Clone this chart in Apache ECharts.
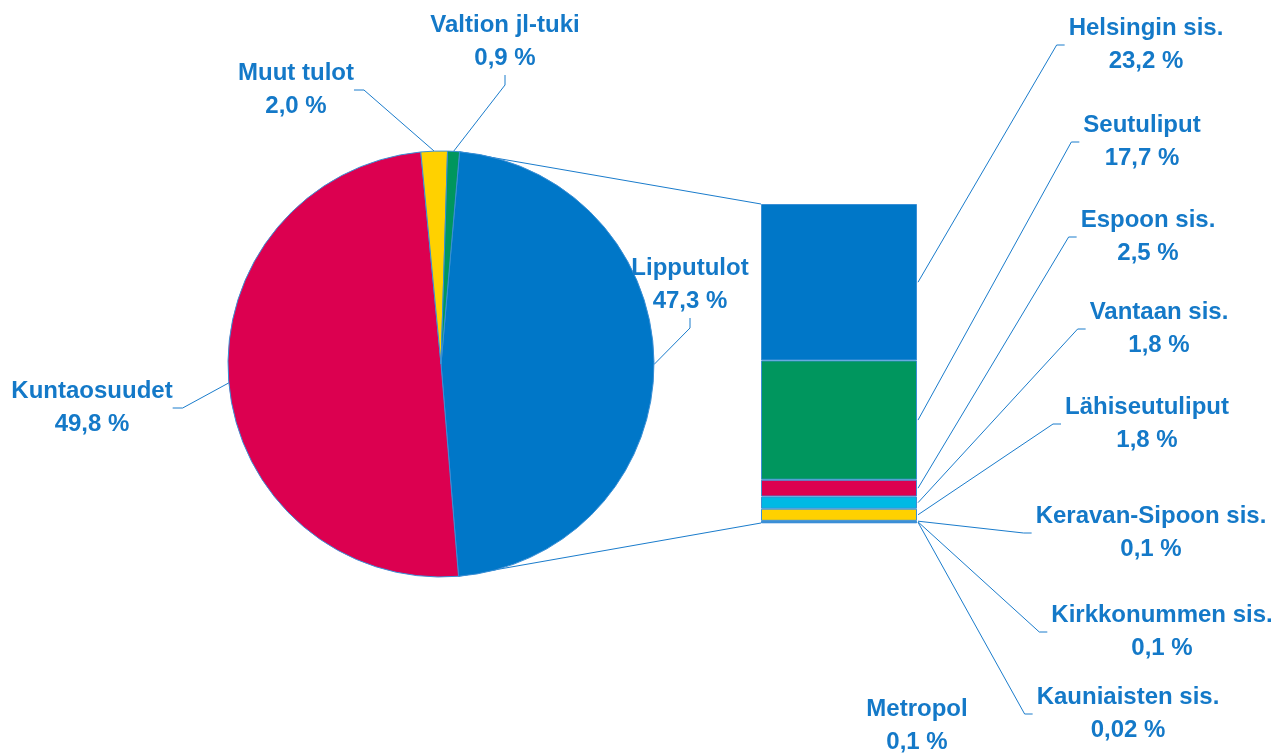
<!DOCTYPE html>
<html>
<head>
<meta charset="utf-8">
<script src="https://cdn.jsdelivr.net/npm/echarts@6/dist/echarts.min.js"></script>
<style>
  html, body { margin: 0; padding: 0; background: #fff; }
  #main { width: 1277px; height: 754px; }
</style>
</head>
<body>
<div id="main"></div>
<script>
// pie: tulot
const pieNames = ['Lipputulot', 'Kuntaosuudet', 'Muut tulot', 'Valtion jl-tuki'];
const pieValues = [47.3, 49.8, 2.0, 0.9];
const pieColors = ['#0077c8', '#dc0050', '#ffd100', '#00965e'];

// bar: lipputulojen jako (alhaalta ylös)
const barNames = ['Metropol', 'Kauniaisten sis.', 'Kirkkonummen sis.', 'Keravan-Sipoon sis.',
  'Lähiseutuliput', 'Vantaan sis.', 'Espoon sis.', 'Seutuliput', 'Helsingin sis.'];
const barValues = [0.1, 0.02, 0.1, 0.1, 1.8, 1.8, 2.5, 17.7, 23.2];
const barColors = ['#0077c8', '#0077c8', '#0077c8', '#0077c8',
  '#ffd100', '#00b9e4', '#dc0050', '#00965e', '#0077c8'];

// label places (layout only)
const pieLabelPos = [[690, 285], [92, 408], [296, 90], [505, 42]];
const barLabelPos = [[917, 726], [1128, 714], [1162, 632], [1151, 533],
  [1147, 424], [1159, 329], [1148, 237], [1142, 142], [1146, 45]];

const blue = '#1479c8';
const lineClr = '#1a7ccc';
const edge = '#3a8fd6';
const pieC = [441, 364], pieR = 213, pieStart = 85;
const gridBox = { left: 761, top: 204, width: 156, height: 319 };
const fontCss = 'bold 24px "Liberation Sans", Arial, sans-serif';

const fmt = v => v.toFixed(v < 0.1 ? 2 : 1).replace('.', ',') + ' %';
const txt = {
  fontFamily: '"Liberation Sans", Arial, sans-serif',
  fontWeight: 'bold',
  fontSize: 24,
  lineHeight: 33,
  color: blue,
  align: 'center'
};

const total = barValues.reduce((a, b) => a + b, 0);
const pieSum = pieValues.reduce((a, b) => a + b, 0);

const chart = echarts.init(document.getElementById('main'));

let series = [{
  type: 'pie',
  center: pieC,
  radius: pieR,
  startAngle: pieStart,
  clockwise: true,
  avoidLabelOverlap: false,
  animation: false,
  data: pieNames.map((n, i) => ({ name: n, value: pieValues[i], itemStyle: { color: pieColors[i] } })),
  itemStyle: { borderColor: edge, borderWidth: 1 },
  label: Object.assign({ show: true, position: 'outside', formatter: p => p.name + '\n' + fmt(p.value) }, txt),
  labelLine: { show: true, length: 20, length2: 10, lineStyle: { color: lineClr, width: 1 } },
  labelLayout: p => ({
    x: pieLabelPos[p.dataIndex][0],
    y: pieLabelPos[p.dataIndex][1],
    align: 'center',
    verticalAlign: 'middle'
  })
}];

barNames.forEach((n, i) => {
  series.push({
    type: 'bar',
    name: n,
    stack: 'lip',
    barWidth: '100%',
    animation: false,
    data: [barValues[i]],
    itemStyle: { color: barColors[i], borderColor: edge, borderWidth: 1 },
    label: Object.assign({ show: true, position: 'right', formatter: n + '\n' + fmt(barValues[i]) }, txt),
    labelLayout: { x: barLabelPos[i][0], y: barLabelPos[i][1], align: 'center', verticalAlign: 'middle' }
  });
});

chart.setOption({
  backgroundColor: '#fff',
  grid: gridBox,
  xAxis: { type: 'category', data: ['Lipputulot'], show: false },
  yAxis: { type: 'value', min: 0, max: total, show: false },
  series: series
});

// yhdysviivat piirakasta pylvääseen
const pt = a => [pieC[0] + pieR * Math.cos(a * Math.PI / 180), pieC[1] - pieR * Math.sin(a * Math.PI / 180)];
const pTop = pt(pieStart);
const pBot = pt(pieStart - pieValues[0] / pieSum * 360);
const bTop = chart.convertToPixel({ gridIndex: 0 }, [0, total]);
const bBot = chart.convertToPixel({ gridIndex: 0 }, [0, 0]);
const bLeft = gridBox.left;
const bRight = gridBox.left + gridBox.width;

const lineStyle = { stroke: lineClr, lineWidth: 1, fill: null };
let graphics = [
  { type: 'line', shape: { x1: pTop[0], y1: pTop[1], x2: bLeft, y2: bTop[1] }, style: lineStyle },
  { type: 'line', shape: { x1: pBot[0], y1: pBot[1], x2: bLeft, y2: bBot[1] }, style: lineStyle }
];

// pylväiden selitysviivat
const ctx = document.createElement('canvas').getContext('2d');
ctx.font = fontCss;
let base = 0;
barNames.forEach((n, i) => {
  const mid = base + barValues[i] / 2;
  base += barValues[i];
  if (n === 'Metropol') return;
  const p = chart.convertToPixel({ gridIndex: 0 }, [0, mid]);
  const w = Math.max(ctx.measureText(n).width, ctx.measureText(fmt(barValues[i])).width);
  const lx = barLabelPos[i][0] - w / 2, ly = barLabelPos[i][1];
  graphics.push({
    type: 'polyline',
    shape: { points: [[bRight + 1, p[1]], [lx - 12, ly], [lx - 4, ly]] },
    style: lineStyle
  });
});

chart.setOption({ graphic: graphics });
</script>
</body>
</html>
